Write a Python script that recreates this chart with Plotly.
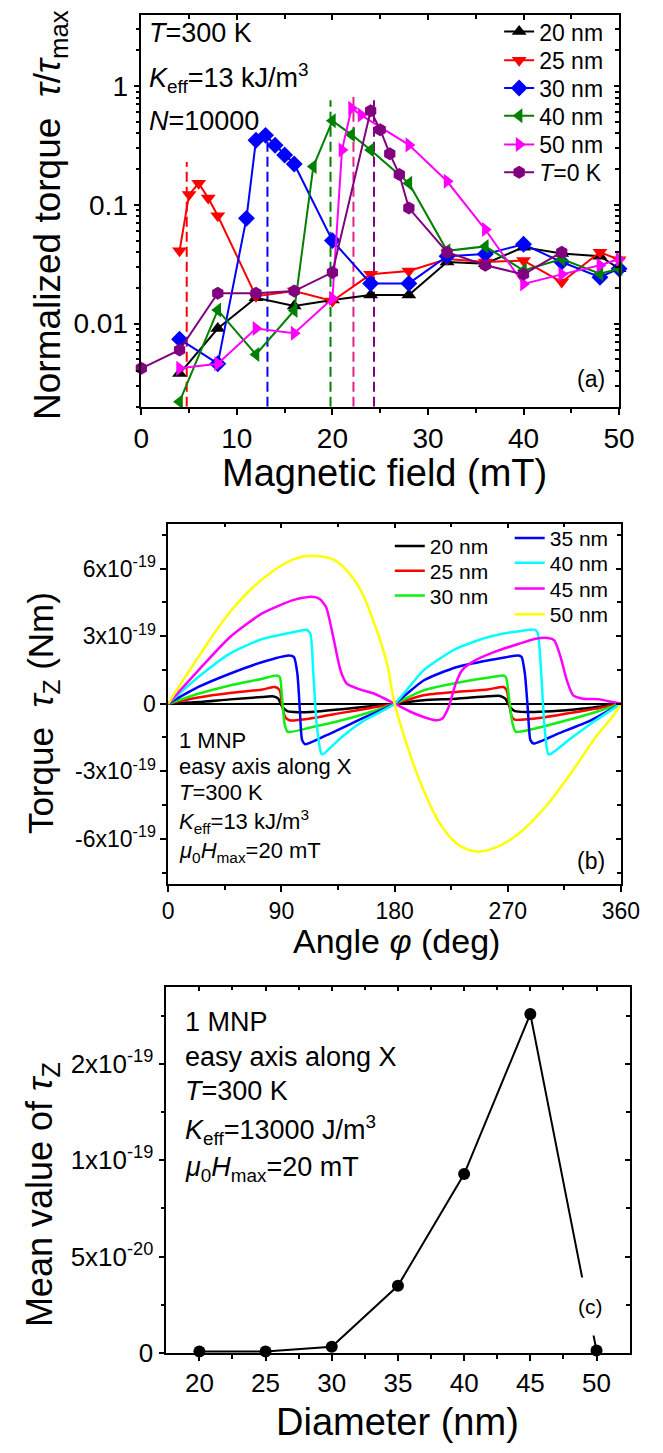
import plotly.graph_objects as go

W, H = 663, 1453
FONT = "Liberation Sans, Arial, sans-serif"

# ---------------- (a) normalized torque vs magnetic field ----------------
field_20 = [4, 8, 12, 16, 20, 24, 28, 32, 36, 40, 44, 48, 50]
torque_20 = [0.0038, 0.0091, 0.0165, 0.0141, 0.0158, 0.0174, 0.0174, 0.033, 0.032, 0.044, 0.039, 0.037, 0.029]
field_25 = [4, 5, 6, 7, 8, 12, 16, 20, 24, 28, 32, 36, 40, 44, 48, 50]
torque_25 = [0.041, 0.122, 0.152, 0.114, 0.081, 0.017, 0.0188, 0.0155, 0.026, 0.0277, 0.035, 0.033, 0.034, 0.0224, 0.040, 0.0345]
field_30 = [4, 8, 11, 12, 13, 14, 15, 16, 20, 24, 28, 32, 36, 40, 44, 48, 50]
torque_30 = [0.0074, 0.0046, 0.077, 0.35, 0.385, 0.318, 0.263, 0.221, 0.050, 0.0218, 0.0218, 0.037, 0.0385, 0.0466, 0.033, 0.0246, 0.029]
field_40 = [4, 8, 12, 16, 18, 20, 22, 24, 28, 32, 36, 40, 44, 48, 50]
torque_40 = [0.0022, 0.013, 0.0055, 0.0129, 0.21, 0.51, 0.39, 0.29, 0.152, 0.041, 0.0447, 0.028, 0.035, 0.0263, 0.029]
field_50 = [4, 8, 12, 16, 20, 21, 22, 23, 28, 32, 36, 40, 44, 48, 50]
torque_50 = [0.0042, 0.0046, 0.0091, 0.0083, 0.0163, 0.29, 0.65, 0.57, 0.32, 0.158, 0.062, 0.0216, 0.026, 0.031, 0.035]
field_0K = [0, 4, 8, 12, 16, 20, 24, 25, 26, 27, 28, 32, 36, 40, 44]
torque_0K = [0.0042, 0.006, 0.018, 0.018, 0.0188, 0.027, 0.62, 0.43, 0.27, 0.18, 0.094, 0.040, 0.031, 0.026, 0.040]

# switching fields (dashed markers)
switch_field = [4.75, 13.2, 19.8, 22.2, 24.35]
switch_top = [0.23, 0.41, 0.76, 0.81, 0.76]
switch_color = ["#FF0000", "#0000FF", "#008000", "#E0218A", "#800080"]
switch_floor = 10 ** -2.7

# ---------------- (b) torque vs angle (units of 1e-19 N m) ----------------
ang_20 = [0, 24, 49, 75, 83, 87.5, 90.5, 94.6, 100, 113, 138, 161, 180, 203, 229, 254, 264, 268, 271.8, 275.6, 284.5, 305, 330, 360]
tq_20 = [0, 0.07, 0.19, 0.30, 0.33, 0.22, -0.12, -0.33, -0.37, -0.37, -0.25, -0.12, 0, 0.15, 0.22, 0.33, 0.34, 0.22, -0.15, -0.33, -0.37, -0.34, -0.22, 0]
ang_25 = [0, 24, 49, 75, 85, 88.7, 90.5, 93, 96.4, 113, 138, 161, 180, 203, 229, 254, 266.7, 269.2, 271.2, 273.3, 275.6, 292, 317, 340, 360]
tq_25 = [0, 0.27, 0.47, 0.63, 0.74, 0.59, -0.07, -0.59, -0.74, -0.66, -0.41, -0.19, 0, 0.37, 0.52, 0.63, 0.74, 0.59, -0.07, -0.59, -0.71, -0.66, -0.44, -0.22, 0]
ang_30 = [0, 24, 49, 75, 86, 88.7, 90.5, 92.5, 95, 113, 138, 161, 180, 203, 229, 254, 266.7, 268.7, 271.2, 273.8, 276.4, 292, 317, 340, 360]
tq_30 = [0, 0.44, 0.81, 1.11, 1.25, 1.18, 0.30, -0.89, -1.25, -1.06, -0.74, -0.37, 0, 0.59, 0.92, 1.15, 1.25, 1.15, 0.15, -0.89, -1.25, -1.10, -0.74, -0.37, 0]
ang_35 = [0, 24, 49, 75, 96, 100, 102.7, 104.7, 106.5, 109, 126, 151, 180, 203, 229, 254, 278.6, 281, 283.6, 286, 288, 290.6, 310, 336, 360]
tq_35 = [0, 0.74, 1.33, 1.85, 2.14, 2.07, 1.33, -0.30, -1.62, -1.80, -1.40, -0.74, 0, 1.03, 1.62, 1.92, 2.14, 2.07, 1.33, -0.30, -1.62, -1.77, -1.33, -0.74, 0]
ang_40 = [0, 24, 49, 75, 100, 110, 113, 115.4, 118, 121.8, 123, 138, 156, 180, 203, 229, 254, 279, 292, 294, 296.6, 299, 302, 303.5, 320, 340, 360]
tq_40 = [0, 1.18, 2.22, 2.88, 3.18, 3.28, 3.1, 1.33, -0.89, -2.22, -2.25, -1.48, -0.74, 0, 1.48, 2.44, 2.95, 3.22, 3.28, 3.1, 1.33, -0.89, -2.22, -2.25, -1.55, -0.74, 0]
ang_45 = [0, 24, 49, 75, 100, 114, 120.5, 125.6, 130.7, 137, 142, 151, 164, 180, 193, 203, 213, 218, 223, 228.6, 233.6, 244, 259, 279, 292, 302, 307, 312, 317, 322, 330, 343, 353, 360]
tq_45 = [0, 1.48, 2.95, 4.02, 4.61, 4.75, 4.65, 4.28, 3.10, 1.48, 0.89, 0.66, 0.44, 0, -0.37, -0.59, -0.74, -0.66, -0.15, 0.89, 1.48, 1.92, 2.29, 2.66, 2.88, 2.92, 2.81, 2.07, 1.03, 0.37, 0.22, 0.19, 0.07, 0]
ang_50 = [0, 24, 49, 75, 100, 116, 133, 151, 164, 174, 180, 193, 203, 216, 229, 245, 262, 279, 300, 320, 340, 353, 360]
tq_50 = [0, 2.07, 4.06, 5.54, 6.42, 6.57, 6.35, 5.24, 3.54, 1.77, 0, -2.36, -3.84, -5.32, -6.2, -6.57, -6.35, -5.76, -4.58, -3.1, -1.48, -0.59, 0]

# ---------------- (c) mean torque vs diameter (axis units of 1e-20) ----------------
diameter = [20, 25, 30, 35, 40, 45, 50]
mean_torque = [0.07, 0.07, 0.32, 3.48, 9.28, 17.58, 0.12]


def px(x):
    return x / W


def py(y):
    return 1 - y / H


fig = go.Figure()
legends = {}
LEG = dict(bgcolor="rgba(0,0,0,0)", borderwidth=0, xanchor="left", yanchor="middle",
           itemwidth=30)

# ---- panel (a) traces: one legend box per entry, stacked down the top-right corner
series_a = [
    ("20 nm", field_20, torque_20, "#000000", "triangle-up", 32),
    ("25 nm", field_25, torque_25, "#FF0000", "triangle-down", 61),
    ("30 nm", field_30, torque_30, "#0000FF", "diamond", 89),
    ("40 nm", field_40, torque_40, "#008000", "triangle-left", 117),
    ("50 nm", field_50, torque_50, "#FF00FF", "triangle-right", 146),
    ("<i>T</i>=0 K", field_0K, torque_0K, "#800080", "hexagon", 174),
]
for f, top, col in zip(switch_field, switch_top, switch_color):
    fig.add_trace(go.Scatter(x=[f, f], y=[switch_floor, top], mode="lines",
                             line=dict(color=col, width=2, dash="10px,5px"),
                             xaxis="x", yaxis="y", showlegend=False, hoverinfo="skip",
                             cliponaxis=False))
leg_id = 1
for name, xs, ys, col, sym, row in series_a:
    key = "legend" if leg_id == 1 else f"legend{leg_id}"
    legends[key] = dict(LEG, x=px(512), y=py(row), font=dict(size=23, family=FONT))
    fig.add_trace(go.Scatter(x=xs, y=ys, name=name, mode="lines+markers",
                             line=dict(color=col, width=2),
                             marker=dict(symbol=sym, size=13, color=col),
                             xaxis="x", yaxis="y", legend=key, cliponaxis=False))
    leg_id += 1

# ---- panel (b) traces: two legend columns
series_b = [
    ("20 nm", ang_20, tq_20, "#000000", 398, 552, 0.6),
    ("25 nm", ang_25, tq_25, "#FF0000", 398, 577, 0.6),
    ("30 nm", ang_30, tq_30, "#11EE11", 398, 602, 0.6),
    ("35 nm", ang_35, tq_35, "#0000FF", 523, 544, 0.6),
    ("40 nm", ang_40, tq_40, "#00FFFF", 523, 569, 0.6),
    ("45 nm", ang_45, tq_45, "#FF00FF", 523, 595, 0.6),
    ("50 nm", ang_50, tq_50, "#FFFF00", 523, 621, 1.0),
]
for name, xs, ys, col, lx, ly, sm in series_b:
    key = f"legend{leg_id}"
    legends[key] = dict(LEG, x=px(lx), y=py(ly), font=dict(size=21, family=FONT))
    fig.add_trace(go.Scatter(x=xs, y=ys, name=name, mode="lines",
                             line=dict(color=col, width=2.5, shape="spline", smoothing=sm),
                             xaxis="x2", yaxis="y2", legend=key))
    leg_id += 1

# ---- panel (c) trace
fig.add_trace(go.Scatter(x=diameter, y=mean_torque, mode="lines+markers",
                         line=dict(color="#000000", width=2),
                         marker=dict(symbol="circle", size=12, color="#000000"),
                         xaxis="x3", yaxis="y3", showlegend=False, cliponaxis=False))

# empty traces that bind the inward-tick frame axes
for k in (4, 5, 6):
    fig.add_trace(go.Scatter(x=[], y=[], xaxis=f"x{k}", yaxis=f"y{k}",
                             showlegend=False, hoverinfo="skip"))

AX = dict(showgrid=False, zeroline=False, showline=True, linecolor="#000000",
          linewidth=1.5, ticks="outside", ticklen=6, tickwidth=1.5, tickcolor="#000000")

dom_a = dict(x=[px(139), px(637)], y=[py(411), py(15)])
dom_b = dict(x=[px(167), px(639)], y=[py(893), py(529)])
dom_c = dict(x=[px(165), px(648)], y=[py(1367), py(997)])

log_minor = [m * 10 ** e for e in (-3, -2, -1) for m in range(2, 10)] + [2, 3]

xa = dict(range=[0, 50], tickvals=[0, 10, 20, 30, 40, 50],
          minor=dict(tickvals=[5, 15, 25, 35, 45], ticklen=4, tickwidth=1.5))
ya = dict(type="log", range=[-2.7, 0.6], tickvals=[0.01, 0.1, 1], ticktext=["0.01", "0.1", "1"],
          minor=dict(tickvals=log_minor, ticklen=4, tickwidth=1.5))
xb = dict(range=[0, 360], tickvals=[0, 90, 180, 270, 360],
          minor=dict(tickvals=[45, 135, 225, 315], ticklen=4, tickwidth=1.5))
yb = dict(range=[-8, 8], tickvals=[-6, -3, 0, 3, 6],
          ticktext=["-6x10<sup>-19</sup>", "-3x10<sup>-19</sup>", "0",
                    "3x10<sup>-19</sup>", "6x10<sup>-19</sup>"],
          minor=dict(tickvals=[-7.5, -4.5, -1.5, 1.5, 4.5, 7.5], ticklen=4, tickwidth=1.5))
xc = dict(range=[17.5, 52.5], tickvals=[20, 25, 30, 35, 40, 45, 50],
          minor=dict(tickvals=[22.5, 27.5, 32.5, 37.5, 42.5, 47.5], ticklen=4, tickwidth=1.5))
yc = dict(range=[0, 19], tickvals=[0, 5, 10, 15],
          ticktext=["0", "5x10<sup>-20</sup>", "1x10<sup>-19</sup>", "2x10<sup>-19</sup>"],
          minor=dict(tickvals=[2.5, 7.5, 12.5, 17.5], ticklen=4, tickwidth=1.5))

layout_axes = {}
for n, dom, xs, ys, fs in ((1, dom_a, xa, ya, 28), (2, dom_b, xb, yb, 23), (3, dom_c, xc, yc, 26)):
    xn = "xaxis" if n == 1 else f"xaxis{n}"
    yn = "yaxis" if n == 1 else f"yaxis{n}"
    yref = "y" if n == 1 else f"y{n}"
    xref = "x" if n == 1 else f"x{n}"
    layout_axes[xn] = dict(AX, domain=dom["x"], anchor=yref,
                           tickfont=dict(size=fs, family=FONT, color="#000"), **xs)
    layout_axes[yn] = dict(AX, domain=dom["y"], anchor=xref,
                           tickfont=dict(size=fs, family=FONT, color="#000"), **ys)
    # frame axes on top/right with inward ticks
    m = n + 3
    fx = dict(xs)
    fy = dict(ys)
    fx["minor"] = dict(fx["minor"], ticks="inside")
    fy["minor"] = dict(fy["minor"], ticks="inside")
    layout_axes[f"xaxis{m}"] = dict(AX, overlaying=xref, side="top", anchor=f"y{m}",
                                    showticklabels=False, ticks="inside", ticklen=5, **fx)
    layout_axes[f"yaxis{m}"] = dict(AX, overlaying=yref, side="right", anchor=f"x{m}",
                                    showticklabels=False, ticks="inside", ticklen=5, **fy)

layout_axes["yaxis2"].update(zeroline=True, zerolinecolor="#000000", zerolinewidth=1.5)

fig.update_layout(**layout_axes)


def note(x, y, text, size, anchor="left", angle=0, **kw):
    fig.add_annotation(x=px(x), y=py(y), xref="paper", yref="paper", text=text,
                       showarrow=False, xanchor=anchor, yanchor="middle", textangle=angle,
                       font=dict(size=size, family=FONT, color="#000"), **kw)


# panel (a) text
note(145, 33, "<i>T</i>=300 K", 27)
note(145, 79, "<i>K</i><sub>eff</sub>=13 kJ/m<sup>3</sup>", 27)
note(145, 122, "<i>N</i>=10000", 27)
note(608, 383, "(a)", 23, anchor="center")
note(44, 217, "Normalized torque&nbsp;&nbsp;<i>τ</i>/<i>τ</i><sub>max</sub>", 37, anchor="center", angle=-90)
note(392, 478, "Magnetic field (mT)", 38, anchor="center")

# panel (b) text
note(176, 748, "1 MNP", 22)
note(176, 775, "easy axis along X", 22)
note(176, 801, "<i>T</i>=300 K", 22)
note(176, 830, "<i>K</i><sub>eff</sub>=13 kJ/m<sup>3</sup>", 22)
note(176, 861, "<i>μ</i><sub>0</sub><i>H</i><sub>max</sub>=20 mT", 22)
note(608, 870, "(b)", 23, anchor="center")
note(36, 721, "Torque&nbsp;&nbsp;<i>τ</i><sub>Z</sub> (Nm)", 35, anchor="center", angle=-90)
note(405, 951, "Angle <i>φ</i> (deg)", 34, anchor="center")

# panel (c) text
note(182, 1033, "1 MNP", 27)
note(182, 1068, "easy axis along X", 27)
note(182, 1102, "<i>T</i>=300 K", 27)
note(182, 1142, "<i>K</i><sub>eff</sub>=13000 J/m<sup>3</sup>", 27)
note(182, 1181, "<i>μ</i><sub>0</sub><i>H</i><sub>max</sub>=20 mT", 27)
note(607, 1320, "(c)", 21, anchor="center", bgcolor="#FFFFFF", borderpad=17)
note(35, 1207, "Mean value of <i>τ</i><sub>Z</sub>", 36, anchor="center", angle=-90)
note(406, 1437, "Diameter (nm)", 38, anchor="center")

fig.update_layout(
    width=W, height=H, margin=dict(l=0, r=0, t=0, b=0),
    paper_bgcolor="#FFFFFF", plot_bgcolor="#FFFFFF",
    font=dict(family=FONT, color="#000"),
    showlegend=True,
    **legends,
)

fig.write_html("out.html")
